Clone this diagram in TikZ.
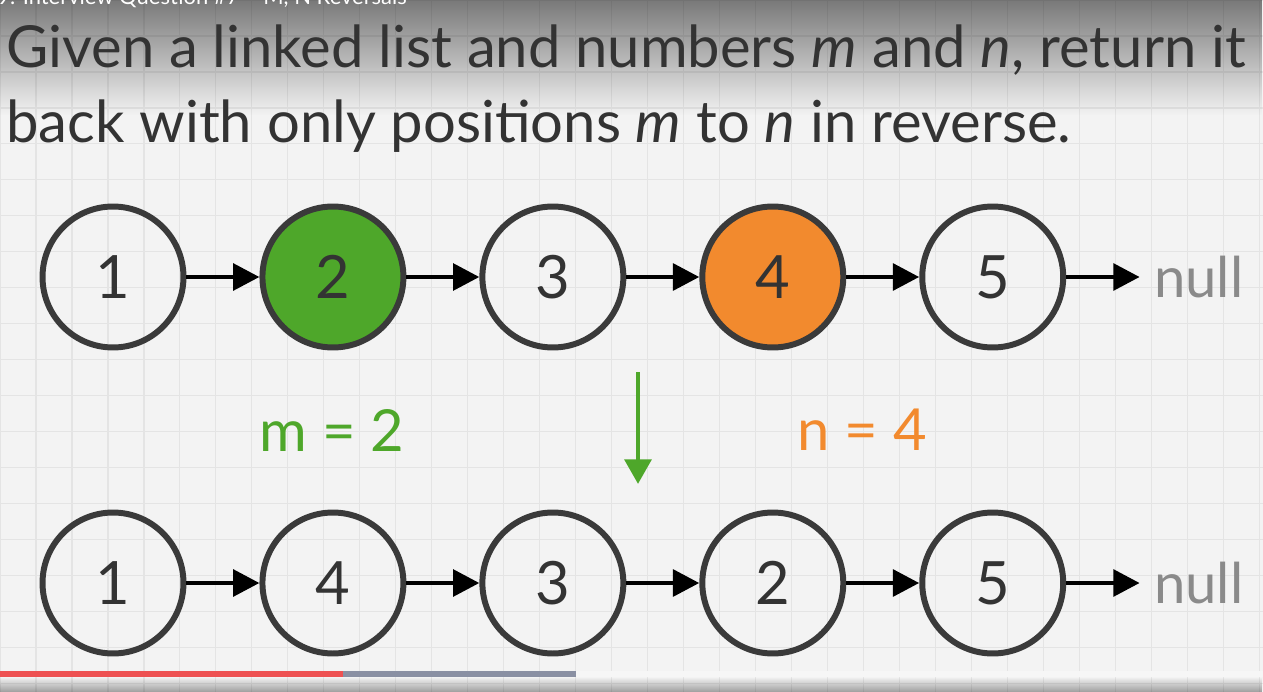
\documentclass[tikz,border=0pt]{standalone}
\usepackage{fontspec}
\setmainfont{Lato}
\usepackage{xcolor}
\definecolor{bgcolor}{HTML}{F3F3F3}
\definecolor{gridcolor}{HTML}{E4E4E4}
\definecolor{inkcolor}{HTML}{333333}
\definecolor{ringcolor}{HTML}{3A3A3A}
\definecolor{mcolor}{HTML}{4EA72A}
\definecolor{ncolor}{HTML}{F28A2E}
\definecolor{nullcolor}{HTML}{8A8A8A}
\definecolor{playedcolor}{HTML}{EE5152}
\definecolor{loadedcolor}{HTML}{8A90A3}
\definecolor{trackcolor}{HTML}{F6F6F6}
\usetikzlibrary{positioning,arrows.meta,fadings}
\tikzset{
    listnode/.style={
        circle,
        draw=ringcolor,
        line width=3.4pt,
        minimum size=2.82cm,
        inner sep=0pt,
        text=inkcolor,
        font=\fontsize{34}{34}\selectfont,
    },
    mnode/.style={
        listnode,
        fill=mcolor,
    },
    nnode/.style={
        listnode,
        fill=ncolor,
    },
    nextptr/.style={
        -{Triangle[length=15pt,width=15pt]},
        line width=2.8pt,
        black,
    },
    nulltext/.style={
        text=nullcolor,
        inner sep=0pt,
        anchor=west,
        font=\fontsize{32}{32}\selectfont,
    },
    rangelabel/.style={
        inner sep=0pt,
        font=\fontsize{33}{33}\selectfont,
    },
    flowarrow/.style={
        -{Triangle[length=14pt,width=15pt]},
        line width=2.8pt,
        mcolor,
    },
    prompt/.style={
        text=inkcolor,
        inner sep=0pt,
        anchor=base west,
        font=\fontsize{33}{33}\selectfont,
    },
}

\begin{document}
\begin{tikzpicture}[x=0.02cm, y=-0.02cm]
    \useasboundingbox (0,0) rectangle (1263,692);
    \clip (0,0) rectangle (1263,692);

    % backdrop
    \fill[bgcolor] (0,0) rectangle (1263,692);
    \draw[gridcolor, line width=0.6pt, step=0.72cm] (0,0) grid (1263,692);
    \fill[black, opacity=0.5, path fading=south] (0,0) rectangle (1263,115);
    \node[anchor=base west, inner sep=0pt, text=white, font=\fontsize{12.5}{12.5}\selectfont] (videotitle) at (-3,5) {9. Interview Question \#7 – M, N Reversals};

    % question
    \node[prompt] (line1) at (6,68) {Given a linked list and numbers \textit{m} and \textit{n}, return it};
    \node[prompt] (line2) at (6,143) {back with only positions \textit{m} to \textit{n} in reverse.};

    % original list
    \node[listnode] (a1) at (113,277) {1};
    \node[mnode, right=1.46cm of a1] (a2) {2};
    \node[listnode, right=1.46cm of a2] (a3) {3};
    \node[nnode, right=1.46cm of a3] (a4) {4};
    \node[listnode, right=1.46cm of a4] (a5) {5};
    \node[nulltext, right=1.75cm of a5] (nulla) {null};

    \draw[nextptr] (a1) -- (a2);
    \draw[nextptr] (a2) -- (a3);
    \draw[nextptr] (a3) -- (a4);
    \draw[nextptr] (a4) -- (a5);
    \draw[nextptr, shorten >=0.28cm] (a5) -- (nulla.west);

    % m, n and the step down
    \node[rangelabel, text=mcolor] (mlabel) at (332,430) {m = 2};
    \node[rangelabel, text=ncolor] (nlabel) at (862,430) {n = 4};
    \coordinate (flowtop) at (638,372);
    \coordinate (flowbot) at (638,484);
    \draw[flowarrow] (flowtop) -- (flowbot);

    % reversed list
    \node[listnode] (b1) at (113,583) {1};
    \node[listnode, right=1.46cm of b1] (b2) {4};
    \node[listnode, right=1.46cm of b2] (b3) {3};
    \node[listnode, right=1.46cm of b3] (b4) {2};
    \node[listnode, right=1.46cm of b4] (b5) {5};
    \node[nulltext, right=1.75cm of b5] (nullb) {null};

    \draw[nextptr] (b1) -- (b2);
    \draw[nextptr] (b2) -- (b3);
    \draw[nextptr] (b3) -- (b4);
    \draw[nextptr] (b4) -- (b5);
    \draw[nextptr, shorten >=0.28cm] (b5) -- (nullb.west);

    % player bar
    \fill[trackcolor] (0,671) rectangle (1263,677);
    \fill[loadedcolor] (0,671) rectangle (576,677);
    \fill[playedcolor] (0,671) rectangle (343,677);
    \fill[black, opacity=0.35, path fading=north] (0,677) rectangle (1263,692);
\end{tikzpicture}
\end{document}
